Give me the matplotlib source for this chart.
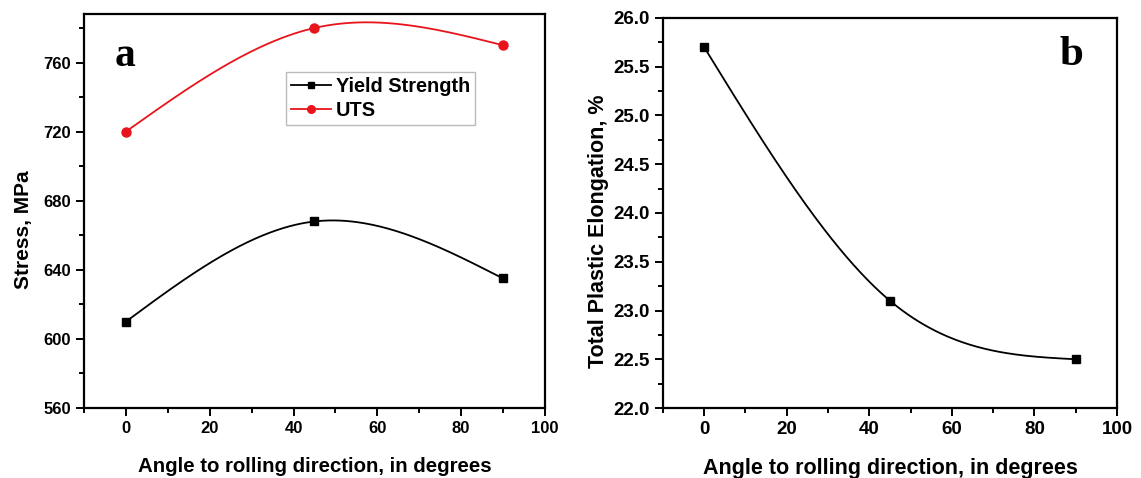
import matplotlib
matplotlib.use("Agg")
import matplotlib.pyplot as plt
import numpy as np
from matplotlib.ticker import MultipleLocator, FormatStrFormatter

# Data
angles = [0, 45, 90]
yield_strength = [610, 668, 635]
uts = [720, 780, 770]
elongation = [25.7, 23.1, 22.5]

plt.rcParams["font.family"] = ["Liberation Sans", "DejaVu Sans"]
plt.rcParams["font.weight"] = "bold"


# natural cubic spline, used only to draw the smooth connecting line
def spline_line(x, y, n=200):
    x = np.asarray(x, float)
    y = np.asarray(y, float)
    k = len(x)
    h = np.diff(x)
    A = np.zeros((k, k))
    r = np.zeros(k)
    A[0, 0] = 1
    A[-1, -1] = 1
    for i in range(1, k - 1):
        A[i, i - 1] = h[i - 1]
        A[i, i] = 2 * (h[i - 1] + h[i])
        A[i, i + 1] = h[i]
        r[i] = 6 * ((y[i + 1] - y[i]) / h[i] - (y[i] - y[i - 1]) / h[i - 1])
    M = np.linalg.solve(A, r)
    xs = np.linspace(x[0], x[-1], n)
    ys = np.empty_like(xs)
    for j, t in enumerate(xs):
        i = min(np.searchsorted(x, t, side="right") - 1, k - 2)
        a, b = x[i], x[i + 1]
        hi = b - a
        ys[j] = (M[i] * (b - t) ** 3 / (6 * hi) + M[i + 1] * (t - a) ** 3 / (6 * hi)
                 + (y[i] / hi - M[i] * hi / 6) * (b - t)
                 + (y[i + 1] / hi - M[i + 1] * hi / 6) * (t - a))
    return xs, ys


def style_axes(ax, size):
    for s in ax.spines.values():
        s.set_linewidth(1.6)
    ax.tick_params(which="both", direction="out", top=False, right=False,
                   width=1.4, labelsize=size)
    ax.tick_params(which="major", length=6)
    ax.tick_params(which="minor", length=3.5)
    ax.xaxis.set_major_locator(MultipleLocator(20))
    ax.xaxis.set_minor_locator(MultipleLocator(10))
    ax.set_xlim(-10, 100)


fig = plt.figure(figsize=(11.41, 4.78), dpi=100)

# panel a
ax1 = fig.add_axes([0.0736, 0.1464, 0.404, 0.824])
xs, ys = spline_line(angles, yield_strength)
ax1.plot(xs, ys, color="black", lw=1.3)
ax1.plot(angles, yield_strength, "s", color="black", ms=6)
xs, ys = spline_line(angles, uts)
ax1.plot(xs, ys, color="#e8141b", lw=1.3)
ax1.plot(angles, uts, "o", color="#e8141b", ms=6.5)
ax1.plot([], [], "-s", color="black", ms=5, lw=1.3, label="Yield Strength")
ax1.plot([], [], "-o", color="#e8141b", ms=5.5, lw=1.3, label="UTS")
style_axes(ax1, 12)
ax1.set_ylim(560, 788)
ax1.yaxis.set_major_locator(MultipleLocator(40))
ax1.yaxis.set_minor_locator(MultipleLocator(20))
ax1.set_xlabel("Angle to rolling direction, in degrees", fontsize=14.7,
               fontweight="bold", labelpad=15)
ax1.set_ylabel("Stress, MPa", fontsize=15, fontweight="bold")
ax1.yaxis.set_label_coords(-0.11, 0.452)
leg = ax1.legend(loc="upper left", bbox_to_anchor=(0.438, 0.853), fontsize=14.3,
                 frameon=True, fancybox=False, handlelength=2.0,
                 handletextpad=0.25, borderpad=0.25, labelspacing=0.25,
                 borderaxespad=0)
leg.get_frame().set_edgecolor("#aaaaaa")
leg.get_frame().set_linewidth(1.0)
ax1.text(0.089, 0.895, "a", transform=ax1.transAxes, fontsize=30,
         fontweight="bold", family="Liberation Serif", ha="center", va="center")

# panel b
ax2 = fig.add_axes([0.581, 0.1464, 0.398, 0.816])
xs, ys = spline_line(angles, elongation)
ax2.plot(xs, ys, color="black", lw=1.3)
ax2.plot(angles, elongation, "s", color="black", ms=6)
style_axes(ax2, 13.5)
ax2.set_ylim(22.0, 26.0)
ax2.yaxis.set_major_locator(MultipleLocator(0.5))
ax2.yaxis.set_minor_locator(MultipleLocator(0.25))
ax2.yaxis.set_major_formatter(FormatStrFormatter("%.1f"))
ax2.set_xlabel("Angle to rolling direction, in degrees", fontsize=15.5,
               fontweight="bold", labelpad=14)
ax2.set_ylabel("Total Plastic Elongation, %", fontsize=15.5, fontweight="bold")
ax2.yaxis.set_label_coords(-0.118, 0.454)
ax2.text(0.90, 0.905, "b", transform=ax2.transAxes, fontsize=31,
         fontweight="bold", family="Liberation Serif", ha="center", va="center")

fig.savefig("out.png", dpi=100)
